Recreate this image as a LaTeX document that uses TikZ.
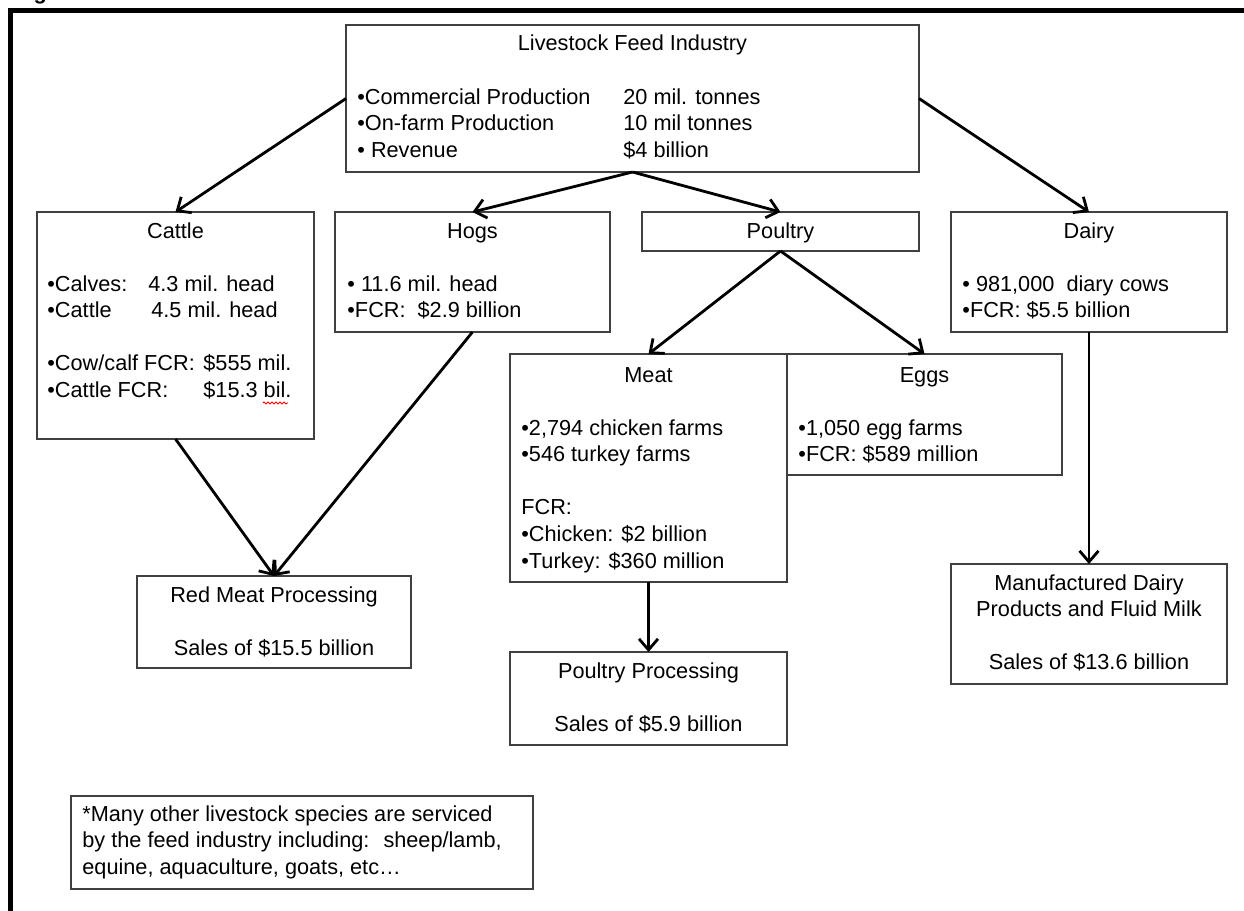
\documentclass[tikz,border=0pt]{standalone}
\usepackage{fontspec}
\setmainfont{Liberation Sans}
\usetikzlibrary{arrows.meta,decorations.pathmorphing}
\newcommand\boxlines[1]{\begin{tabular}[t]{@{}l@{}}#1\end{tabular}}
\newcommand\midlines[1]{\begin{tabular}[t]{@{}c@{}}#1\end{tabular}}
\begin{document}
\begin{tikzpicture}[x=0.5pt, y=-0.5pt,
    font=\fontsize{10.85}{13.3}\selectfont,
    box/.style={draw=black!75, line width=0.8pt, inner sep=0, outer sep=0, anchor=north west},
    head/.style={anchor=base, inner sep=0},
    body/.style={anchor=base west, inner sep=0},
    feed/.style={arrows=-{Straight Barb[length=5.5pt,width=9.5pt]}, line width=1.4pt}]
    \useasboundingbox (0,0) rectangle (1244,911);
    
    % frame
    \draw[line width=2.5pt] (10.5,911) -- (10.5,10.5) -- (1244,10.5);
    \node[body, font=\fontsize{10.85}{13.3}\selectfont\bfseries] (fig) at (14,-1) {Figure 1:};
    
    % boxes
    \node[box, minimum width=286.5pt, minimum height=73.5pt] (top) at (346,25) {};
    \node[box, minimum width=138.5pt, minimum height=113.5pt] (cattle) at (37,212) {};
    \node[box, minimum width=137.5pt, minimum height=60pt] (hogs) at (335,212) {};
    \node[box, minimum width=138.5pt, minimum height=19.5pt] (poultry) at (642,212) {};
    \node[box, minimum width=138pt, minimum height=60pt] (dairy) at (951,212) {};
    \node[box, minimum width=138.5pt, minimum height=114pt] (meat) at (510,354) {};
    \node[box, minimum width=137.5pt, minimum height=60.5pt] (eggs) at (787,354) {};
    \node[box, minimum width=137pt, minimum height=46pt] (redmeat) at (137,576) {};
    \node[box, minimum width=138.5pt, minimum height=46.5pt] (pproc) at (510,652) {};
    \node[box, minimum width=138pt, minimum height=60pt] (manuf) at (951,564) {};
    \node[box, minimum width=231pt, minimum height=46.5pt] (note) at (71,796) {};
    
    % texts
    \node[head] (top-t) at (632.5,50) {Livestock Feed Industry};
    \node[body] (top-b) at (357,104) {\boxlines{\makebox[133pt][l]{•Commercial Production}20 mil. tonnes\\
        \makebox[133pt][l]{•On-farm Production}10 mil tonnes\\
        \makebox[133pt][l]{• Revenue}\$4 billion}};
    \node[head] (cattle-t) at (175.5,238) {Cattle};
    \node[body] (cattle-b) at (47,291) {\boxlines{\makebox[50.5pt][l]{•Calves:}4.3 mil. head\\
        \makebox[52pt][l]{•Cattle}4.5 mil. head\\ \\
        \makebox[78pt][l]{•Cow/calf FCR:}\$555 mil.\\
        \makebox[78pt][l]{•Cattle FCR:}\$15.3 bil.}};
    \draw[red, line width=0.4pt, decorate, decoration={zigzag, amplitude=0.5pt, segment length=2pt}] (263,403) -- (288,403);
    \node[head] (hogs-t) at (472.5,238) {Hogs};
    \node[body] (hogs-b) at (347,291) {\boxlines{• 11.6 mil. head\\ •FCR:~ \$2.9 billion}};
    \node[head] (poultry-t) at (780.5,238) {Poultry};
    \node[head] (dairy-t) at (1089,238) {Dairy};
    \node[body] (dairy-b) at (962,291) {\boxlines{• 981,000~ diary cows\\ •FCR: \$5.5 billion}};
    \node[head] (meat-t) at (648.5,382) {Meat};
    \node[body] (meat-b) at (521,435) {\boxlines{•2,794 chicken farms\\ •546 turkey farms\\ \\
        FCR:\\ •Chicken: \$2 billion\\ •Turkey: \$360 million}};
    \node[head] (eggs-t) at (924.5,382) {Eggs};
    \node[body] (eggs-b) at (798,435) {\boxlines{•1,050 egg farms\\ •FCR: \$589 million}};
    \node[head] (redmeat-t) at (274,602) {\midlines{Red Meat Processing\\ \\ Sales of \$15.5 billion}};
    \node[head] (pproc-t) at (648.5,678) {\midlines{Poultry Processing\\ \\ Sales of \$5.9 billion}};
    \node[head] (manuf-t) at (1089,590) {\midlines{Manufactured Dairy\\ Products and Fluid Milk\\ \\ Sales of \$13.6 billion}};
    \node[body] (note-t) at (82,821) {\boxlines{*Many other livestock species are serviced\\
        by the feed industry including:~ sheep/lamb,\\
        equine, aquaculture, goats, etc…}};
    
    % connectors
    \draw[feed] (top.west) -- (cattle.north);
    \draw[feed] (top.east) -- (dairy.north);
    \draw[feed] (top.south) -- (hogs.north);
    \draw[feed] (top.south) -- (poultry.north);
    \draw[feed] (poultry.south) -- (meat.north);
    \draw[feed] (poultry.south) -- (eggs.north);
    \draw[feed] (cattle.south) -- (redmeat.north);
    \draw[feed] (hogs.south) -- (redmeat.north);
    \draw[feed] (meat.south) -- (pproc.north);
    \draw[feed] (dairy.south) -- (manuf.north);
    
\end{tikzpicture}
\end{document}
